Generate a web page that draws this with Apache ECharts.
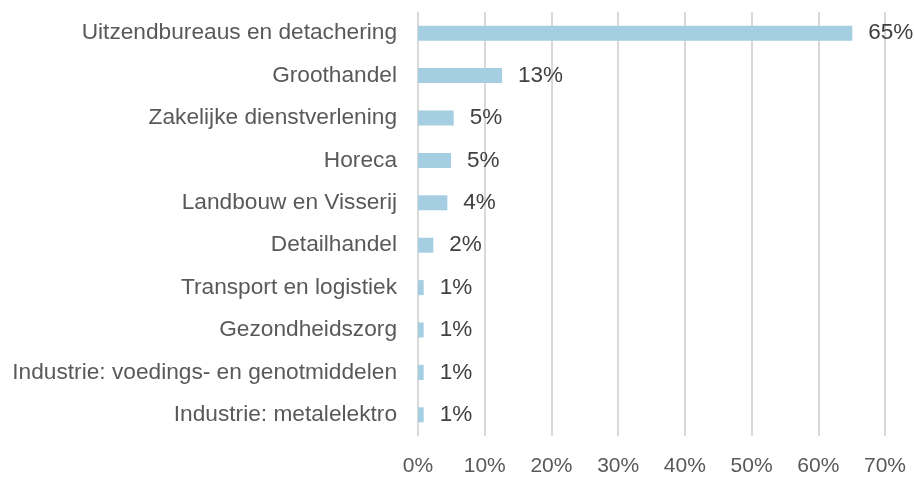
<!DOCTYPE html>
<html>
<head>
    <meta charset="UTF-8">
    <title>Sectoren</title>
    <script src="https://cdn.jsdelivr.net/npm/echarts@6/dist/echarts.min.js"></script>
    <style>html, body {margin: 0; padding: 0;} #chart {width: 914px; height: 477px;}</style>
</head>
<body>

<div id="chart"></div>

<script>
    var categories = [
        'Uitzendbureaus en detachering',
        'Groothandel',
        'Zakelijke dienstverlening',
        'Horeca',
        'Landbouw en Visserij',
        'Detailhandel',
        'Transport en logistiek',
        'Gezondheidszorg',
        'Industrie: voedings- en genotmiddelen',
        'Industrie: metalelektro'
    ];
    var values = [65.1, 12.6, 5.35, 4.95, 4.4, 2.3, 0.85, 0.85, 0.85, 0.85];
    var labels = ['65%', '13%', '5%', '5%', '4%', '2%', '1%', '1%', '1%', '1%'];

    var fontName = 'Liberation Sans';
    var myChart = echarts.init(document.getElementById('chart'));

    var option = {
        backgroundColor: '#ffffff',
        animation: false,
        grid: {
            left: 418,
            right: 29,
            top: 12,
            bottom: 40
        },
        xAxis: {
            type: 'value',
            min: 0,
            max: 70,
            interval: 10,
            axisLine: {show: false},
            axisTick: {show: false},
            splitLine: {lineStyle: {color: '#d9d9d9', width: 2}},
            axisLabel: {
                formatter: '{value}%',
                color: '#595959',
                fontSize: 21,
                fontFamily: fontName,
                margin: 20
            }
        },
        yAxis: {
            type: 'category',
            inverse: true,
            data: categories,
            axisLine: {show: false},
            axisTick: {show: false},
            axisLabel: {
                color: '#595959',
                fontSize: 22.7,
                fontFamily: fontName,
                margin: 21
            }
        },
        series: [{
            type: 'bar',
            data: values,
            barWidth: 15,
            itemStyle: {color: '#a6cee2'},
            label: {
                show: true,
                position: 'right',
                distance: 16,
                color: '#404040',
                fontSize: 22.5,
                fontFamily: fontName,
                formatter: function (p) { return labels[p.dataIndex]; }
            }
        }]
    };
    myChart.setOption(option);
</script>

</body>
</html>
